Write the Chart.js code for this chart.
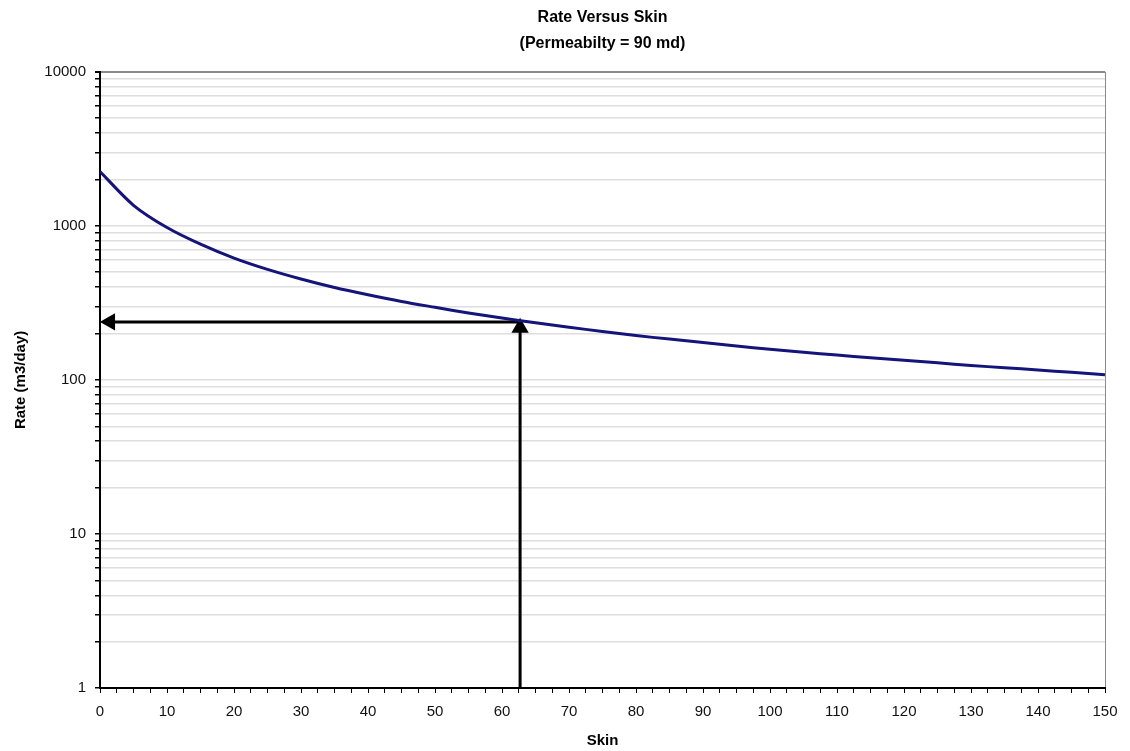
<!DOCTYPE html>
<html>
<head>
<meta charset="utf-8">
<script src="https://cdn.jsdelivr.net/npm/chart.js@4.4.0/dist/chart.umd.min.js"></script>
<style>
  html, body { margin: 0; padding: 0; background: #fff; }
  #wrap { width: 1130px; height: 751px; position: relative; }
</style>
</head>
<body>
<div id="wrap"><canvas id="rateChart"></canvas></div>
<script>
// Rate versus skin
var skin = [0, 5, 10, 15, 20, 25, 30, 35, 40, 45, 50, 55, 60, 65, 70, 75,
            80, 85, 90, 95, 100, 105, 110, 115, 120, 125, 130, 135, 140, 145, 150];
var rate = [2250, 1360, 975, 760, 618, 522, 452, 398, 357, 323, 296, 272, 252, 235, 220, 206,
            194, 184, 175, 166, 158, 151, 145, 139, 134, 129, 124, 120, 116, 112, 108];

// arrow reading: skin ~62.7 -> rate ~238 (arrowheads sit just off the ends)
var vArrowSkin = [62.7, 62.7];
var vArrowRate = [1, 218];
var hArrowSkin = [62.7, 1.5];
var hArrowRate = [238, 238];

var yTickValues = [];
for (var p = 0; p <= 4; p++) {
    for (var m = 1; m <= 9; m++) {
        var v = m * Math.pow(10, p);
        if (v <= 10000) yTickValues.push(v);
    }
}

function pts(xs, ys) {
    return xs.map(function (x, i) { return {x: x, y: ys[i]}; });
}

Chart.defaults.font.family = "'Liberation Sans', Arial, sans-serif";
Chart.defaults.color = '#111';

new Chart(document.getElementById('rateChart'), {
    type: 'line',
    data: {
        datasets: [
            {
                data: pts(skin, rate),
                borderColor: '#14147a',
                borderWidth: 3,
                pointRadius: 0,
                tension: 0.3,
                fill: false
            },
            {
                // vertical arrow, up to the curve
                data: pts(vArrowSkin, vArrowRate),
                borderColor: '#000',
                backgroundColor: '#000',
                borderWidth: 3,
                pointStyle: 'triangle',
                pointRadius: [0, 7],
                pointRotation: 0,
                clip: false
            },
            {
                // horizontal arrow, back to the rate axis
                data: pts(hArrowSkin, hArrowRate),
                borderColor: '#000',
                backgroundColor: '#000',
                borderWidth: 3,
                pointStyle: 'triangle',
                pointRadius: [0, 7],
                pointRotation: -90,
                clip: false
            }
        ]
    },
    options: {
        responsive: true,
        maintainAspectRatio: false,
        animation: false,
        layout: {padding: {top: 4, right: 25, bottom: 1, left: 4}},
        plugins: {
            legend: {display: false},
            tooltip: {enabled: false},
            title: {
                display: true,
                fullSize: false,
                text: ['Rate Versus Skin', '(Permeabilty = 90 md)'],
                font: {size: 16, weight: 'bold', lineHeight: 1.65},
                color: '#000',
                padding: {top: 0, bottom: 15}
            }
        },
        scales: {
            x: {
                type: 'linear',
                min: 0,
                max: 150,
                afterFit: function (scale) { scale.height = 62; },
                ticks: {
                    stepSize: 2.5,
                    autoSkip: false,
                    maxRotation: 0,
                    padding: 10,
                    font: {size: 15},
                    color: '#111',
                    callback: function (v) { return v % 10 === 0 ? v : ''; }
                },
                grid: {
                    drawOnChartArea: true,
                    color: function (ctx) {
                        return ctx.tick && ctx.tick.value === 150 ? '#8a8a8a' : 'rgba(0,0,0,0)';
                    },
                    tickColor: '#000',
                    tickLength: 5
                },
                border: {color: '#000', width: 2},
                title: {
                    display: true,
                    text: 'Skin',
                    font: {size: 15, weight: 'bold'},
                    color: '#000',
                    padding: {top: 4, bottom: 0}
                }
            },
            y: {
                type: 'logarithmic',
                min: 1,
                max: 10000,
                afterBuildTicks: function (scale) {
                    scale.ticks = yTickValues.map(function (v) { return {value: v}; });
                },
                afterFit: function (scale) { scale.width = 96; },
                ticks: {
                    autoSkip: false,
                    padding: 9,
                    font: {size: 15},
                    color: '#111',
                    callback: function (v) {
                        var l = Math.log10(v);
                        return Math.abs(l - Math.round(l)) < 1e-9 ? String(v) : '';
                    }
                },
                grid: {
                    color: function (ctx) {
                        return ctx.tick && ctx.tick.value === 10000 ? '#8a8a8a' : '#dedede';
                    },
                    lineWidth: function (ctx) {
                        return ctx.tick && ctx.tick.value === 10000 ? 2 : 1.5;
                    },
                    tickColor: '#000',
                    tickLength: 5
                },
                border: {color: '#000', width: 2},
                title: {
                    display: true,
                    text: 'Rate (m3/day)',
                    font: {size: 15, weight: 'bold'},
                    color: '#000',
                    padding: {top: 8, bottom: 0}
                }
            }
        }
    }
});
</script>
</body>
</html>
